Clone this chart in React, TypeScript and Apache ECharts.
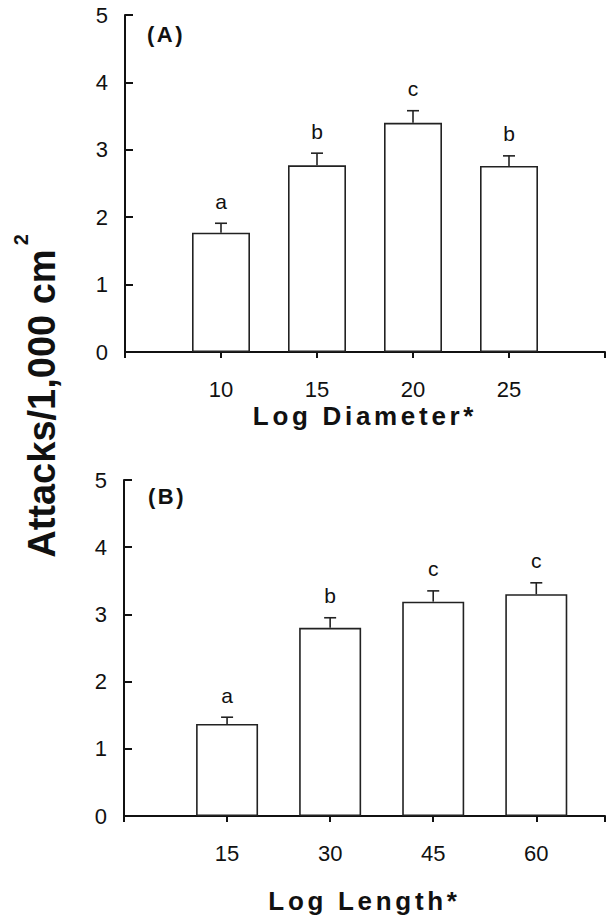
import React, { useEffect, useRef } from "react";
import * as echarts from "echarts";

// Panel A: log diameter
const diameterCats = [10, 15, 20, 25];
const diameterMeans = [1.77, 2.77, 3.4, 2.76];
const diameterErrTops = [1.91, 2.95, 3.58, 2.91];
const diameterLetters = ["a", "b", "c", "b"];

// Panel B: log length
const lengthCats = [15, 30, 45, 60];
const lengthMeans = [1.37, 2.8, 3.19, 3.3];
const lengthErrTops = [1.47, 2.95, 3.35, 3.47];
const lengthLetters = ["a", "b", "c", "c"];

const yLabel = "Attacks/1,000 cm";
const yLabelSup = "2";
const xNameA = "Log Diameter*";
const xNameB = "Log Length*";

const FONT = '"Liberation Sans", Arial, Helvetica, sans-serif';
const INK = "#111";

function errorSeries(
  xs: number[],
  means: number[],
  tops: number[],
  letters: string[],
  idx: number
) {
  return {
    type: "custom",
    xAxisIndex: idx,
    yAxisIndex: idx,
    z: 5,
    data: xs.map((x, i) => [x, means[i], tops[i]]),
    encode: { x: 0, y: [1, 2] },
    renderItem: (params: any, api: any) => {
      const x = api.value(0);
      const base = api.coord([x, api.value(1)]);
      const top = api.coord([x, api.value(2)]);
      const letter = letters[params.dataIndex];
      return {
        type: "group",
        children: [
          {
            type: "line",
            shape: { x1: base[0], y1: base[1], x2: top[0], y2: top[1] },
            style: { stroke: "#222", lineWidth: 1.6 },
          },
          {
            type: "line",
            shape: { x1: top[0] - 6, y1: top[1], x2: top[0] + 6, y2: top[1] },
            style: { stroke: "#222", lineWidth: 1.6 },
          },
          {
            type: "text",
            x: top[0],
            y: top[1] - 22,
            style: {
              text: letter,
              fill: INK,
              font: `21px ${FONT}`,
              align: "center",
              verticalAlign: "middle",
            },
          },
        ],
      };
    },
  };
}

function barSeries(xs: number[], means: number[], idx: number, width: number) {
  return {
    type: "bar",
    xAxisIndex: idx,
    yAxisIndex: idx,
    barWidth: width,
    data: xs.map((x, i) => [x, means[i]]),
    itemStyle: { color: "#fff", borderColor: "#222", borderWidth: 1.6 },
  };
}

function xAxisDef(idx: number, min: number, max: number, interval: number, name: string, nameGap: number) {
  return {
    type: "value",
    gridIndex: idx,
    min,
    max,
    interval,
    name,
    nameLocation: "middle",
    nameGap,
    nameTextStyle: { fontSize: 26, fontWeight: "bold", color: INK, fontFamily: FONT },
    axisLine: { show: true, lineStyle: { color: INK, width: 2 } },
    axisTick: { show: true, inside: false, length: 6, lineStyle: { color: INK, width: 2 } },
    axisLabel: {
      fontSize: 22,
      color: INK,
      fontFamily: FONT,
      margin: 26,
      formatter: (v: number) => (v === min || v === max ? "" : String(v)),
    },
    splitLine: { show: false },
  };
}

function yAxisDef(idx: number) {
  return {
    type: "value",
    gridIndex: idx,
    min: 0,
    max: 5,
    interval: 1,
    axisLine: { show: true, lineStyle: { color: INK, width: 2 } },
    axisTick: { show: true, inside: true, length: 8, lineStyle: { color: INK, width: 2 } },
    axisLabel: { fontSize: 22, color: INK, fontFamily: FONT, margin: 17 },
    splitLine: { show: false },
  };
}

export default function App() {
  const ref = useRef<HTMLDivElement>(null);

  useEffect(() => {
    if (!ref.current) return;
    const chart = echarts.init(ref.current, undefined, { renderer: "svg" });
    chart.setOption({
      animation: false,
      backgroundColor: "#fff",
      textStyle: { fontFamily: FONT },
      grid: [
        { left: 125, top: 15, width: 481, height: 337 },
        { left: 124, top: 480, width: 482, height: 336 },
      ],
      xAxis: [
        xAxisDef(0, 5, 30, 5, xNameA, 51),
        xAxisDef(1, 0, 70, 15, xNameB, 72),
      ],
      yAxis: [yAxisDef(0), yAxisDef(1)],
      series: [
        barSeries(diameterCats, diameterMeans, 0, 58),
        errorSeries(diameterCats, diameterMeans, diameterErrTops, diameterLetters, 0),
        barSeries(lengthCats, lengthMeans, 1, 62),
        errorSeries(lengthCats, lengthMeans, lengthErrTops, lengthLetters, 1),
      ],
      graphic: [
        {
          type: "text",
          x: 166,
          y: 34,
          style: {
            text: "(A)",
            fill: INK,
            font: `bold 22px ${FONT}`,
            align: "center",
            verticalAlign: "middle",
          },
        },
        {
          type: "text",
          x: 167,
          y: 496,
          style: {
            text: "(B)",
            fill: INK,
            font: `bold 22px ${FONT}`,
            align: "center",
            verticalAlign: "middle",
          },
        },
        {
          type: "text",
          x: 36,
          y: 396,
          rotation: Math.PI / 2,
          style: {
            text: `{m|${yLabel}}{s|${yLabelSup}}`,
            fill: INK,
            align: "center",
            verticalAlign: "middle",
            rich: {
              m: { font: `bold 38px ${FONT}`, fill: INK, padding: [12, 0, 0, 0] },
              s: { font: `bold 20px ${FONT}`, fill: INK, verticalAlign: "top", padding: [0, 0, 0, 4] },
            },
          },
        },
      ],
    });

    const svg = ref.current.querySelector("svg");
    if (svg) {
      svg.querySelectorAll("text").forEach((t) => {
        const s = t.textContent || "";
        if (s === xNameA || s === xNameB) t.setAttribute("letter-spacing", "3.7");
        if (s === "(A)" || s === "(B)") t.setAttribute("letter-spacing", "2.5");
      });
    }

    return () => chart.dispose();
  }, []);

  return (
    <div
      ref={ref}
      style={{ position: "fixed", left: 0, top: 0, width: 608, height: 918, background: "#fff" }}
    />
  );
}
